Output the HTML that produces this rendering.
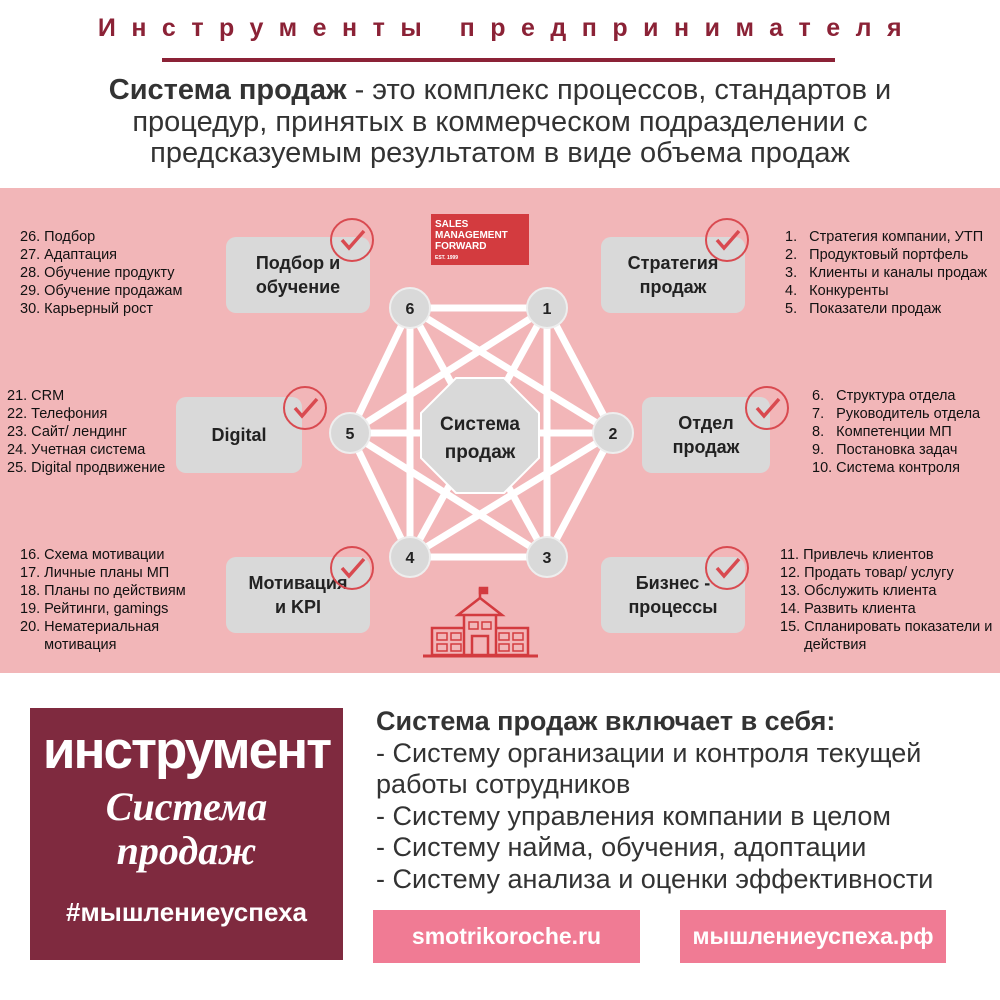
<!DOCTYPE html>
<html><head><meta charset="utf-8"><style>
body{margin:0;width:1000px;height:1000px;background:#fff;position:relative;overflow:hidden;font-family:"Liberation Sans","DejaVu Sans",sans-serif}
.a{position:absolute}
.box{position:absolute;background:#d9d9d9;border-radius:10px;display:flex;align-items:center;justify-content:center;text-align:center;font-weight:bold;font-size:18px;color:#222;line-height:24px}
.lst{position:absolute;font-size:14.5px;color:#111;line-height:18px;white-space:nowrap}
.btn{position:absolute;background:#f07b94;color:#fff;font-weight:bold;font-size:23px;display:flex;align-items:center;justify-content:center}
</style></head><body>
<div class="a" style="left:0;top:14px;width:1000px;text-align:center;color:#8b2236;font-weight:bold;font-size:25px;letter-spacing:15.5px;text-indent:15px">Инструменты предпринимателя</div>
<div class="a" style="left:162px;top:58px;width:673px;height:4px;background:#8b2236"></div>
<div class="a" style="left:0;top:75px;width:1000px;text-align:center;font-size:29px;line-height:31.5px;color:#333">
<b>Система продаж</b> - это комплекс процессов, стандартов и<br>процедур, принятых в коммерческом подразделении с<br>предсказуемым результатом в виде объема продаж</div>
<div class="a" style="left:0;top:188px;width:1000px;height:485px;background:#f2b6b8"></div>
<svg class="a" style="left:0;top:0" width="1000" height="700">
<g stroke="#fff" stroke-width="7">
<line x1="410" y1="308" x2="547" y2="308"/><line x1="547" y1="308" x2="613" y2="433"/><line x1="613" y1="433" x2="547" y2="557"/><line x1="547" y1="557" x2="410" y2="557"/><line x1="410" y1="557" x2="350" y2="433"/><line x1="350" y1="433" x2="410" y2="308"/>
<line x1="410" y1="308" x2="613" y2="433"/><line x1="410" y1="308" x2="547" y2="557"/><line x1="410" y1="308" x2="410" y2="557"/>
<line x1="547" y1="308" x2="350" y2="433"/><line x1="547" y1="308" x2="410" y2="557"/><line x1="547" y1="308" x2="547" y2="557"/>
<line x1="613" y1="433" x2="350" y2="433"/><line x1="613" y1="433" x2="410" y2="557"/><line x1="350" y1="433" x2="547" y2="557"/>
</g>
<polygon points="456,378 504,378 539,413 539,458 504,493 456,493 421,458 421,413" fill="#d9d9d9" stroke="#fff" stroke-width="2"/>
<text x="480" y="430" text-anchor="middle" font-weight="bold" font-size="19" fill="#222">Система</text>
<text x="480" y="458" text-anchor="middle" font-weight="bold" font-size="19" fill="#222">продаж</text>
<g fill="#d9d9d9" stroke="#eee" stroke-width="2">
<circle cx="410" cy="308" r="20"/><circle cx="547" cy="308" r="20"/><circle cx="613" cy="433" r="20"/><circle cx="547" cy="557" r="20"/><circle cx="410" cy="557" r="20"/><circle cx="350" cy="433" r="20"/></g>
<g font-weight="bold" font-size="16" fill="#222" text-anchor="middle">
<text x="410" y="314">6</text><text x="547" y="314">1</text><text x="613" y="439">2</text><text x="547" y="563">3</text><text x="410" y="563">4</text><text x="350" y="439">5</text></g>
<rect x="431" y="214" width="98" height="51" fill="#d33b3f"/>
<g fill="#fff" font-weight="bold" font-size="10"><text x="435" y="227">SALES</text><text x="435" y="238">MANAGEMENT</text><text x="435" y="249">FORWARD</text><text x="435" y="259" font-size="5">EST. 1999</text></g>
<g fill="#f2b6b8" stroke="#d33b3f" stroke-width="2.5">
<rect x="432" y="628" width="34" height="27"/><rect x="494" y="628" width="34" height="27"/>
<rect x="464" y="614" width="32" height="41"/><polygon points="458,615 480,598 502,615"/>
<line x1="480" y1="598" x2="480" y2="588"/><rect x="480" y="588" width="7" height="5" fill="#d33b3f"/>
<line x1="423" y1="656" x2="538" y2="656" stroke-width="3"/>
<rect x="472" y="636" width="16" height="19"/>
<g stroke-width="1.5"><rect x="437" y="633" width="10" height="7"/><rect x="451" y="633" width="10" height="7"/><rect x="437" y="644" width="10" height="7"/><rect x="451" y="644" width="10" height="7"/>
<rect x="499" y="633" width="10" height="7"/><rect x="513" y="633" width="10" height="7"/><rect x="499" y="644" width="10" height="7"/><rect x="513" y="644" width="10" height="7"/>
<rect x="469" y="622" width="9" height="7"/><rect x="482" y="622" width="9" height="7"/></g>
</g>
</svg>
<div class="box" style="left:226px;top:237px;width:144px;height:76px">Подбор и<br>обучение</div>
<div class="box" style="left:601px;top:237px;width:144px;height:76px">Стратегия<br>продаж</div>
<div class="box" style="left:176px;top:397px;width:126px;height:76px">Digital</div>
<div class="box" style="left:642px;top:397px;width:128px;height:76px">Отдел<br>продаж</div>
<div class="box" style="left:226px;top:557px;width:144px;height:76px">Мотивация<br>и KPI</div>
<div class="box" style="left:601px;top:557px;width:144px;height:76px">Бизнес -<br>процессы</div>
<svg class="a" style="left:0;top:0" width="1000" height="700"><g fill="none" stroke="#d94a50" stroke-width="2">
<g transform="translate(352,240)"><circle r="21"/><path d="M-10,0 L-3,8 L12,-9" stroke-width="3.5"/></g>
<g transform="translate(727,240)"><circle r="21"/><path d="M-10,0 L-3,8 L12,-9" stroke-width="3.5"/></g>
<g transform="translate(305,408)"><circle r="21"/><path d="M-10,0 L-3,8 L12,-9" stroke-width="3.5"/></g>
<g transform="translate(767,408)"><circle r="21"/><path d="M-10,0 L-3,8 L12,-9" stroke-width="3.5"/></g>
<g transform="translate(352,568)"><circle r="21"/><path d="M-10,0 L-3,8 L12,-9" stroke-width="3.5"/></g>
<g transform="translate(727,568)"><circle r="21"/><path d="M-10,0 L-3,8 L12,-9" stroke-width="3.5"/></g>
</g></svg>
<div class="lst" style="left:20px;top:228px">26. Подбор<br>27. Адаптация<br>28. Обучение продукту<br>29. Обучение продажам<br>30. Карьерный рост</div>
<div class="lst" style="left:785px;top:228px">1.&nbsp;&nbsp;&nbsp;Стратегия компании, УТП<br>2.&nbsp;&nbsp;&nbsp;Продуктовый портфель<br>3.&nbsp;&nbsp;&nbsp;Клиенты и каналы продаж<br>4.&nbsp;&nbsp;&nbsp;Конкуренты<br>5.&nbsp;&nbsp;&nbsp;Показатели продаж</div>
<div class="lst" style="left:7px;top:387px">21. CRM<br>22. Телефония<br>23. Сайт/ лендинг<br>24. Учетная система<br>25. Digital продвижение</div>
<div class="lst" style="left:812px;top:387px">6.&nbsp;&nbsp;&nbsp;Структура отдела<br>7.&nbsp;&nbsp;&nbsp;Руководитель отдела<br>8.&nbsp;&nbsp;&nbsp;Компетенции МП<br>9.&nbsp;&nbsp;&nbsp;Постановка задач<br>10. Система контроля</div>
<div class="lst" style="left:20px;top:546px">16. Схема мотивации<br>17. Личные планы МП<br>18. Планы по действиям<br>19. Рейтинги, gamings<br>20. Нематериальная<br>&nbsp;&nbsp;&nbsp;&nbsp;&nbsp;&nbsp;мотивация</div>
<div class="lst" style="left:780px;top:546px">11. Привлечь клиентов<br>12. Продать товар/ услугу<br>13. Обслужить клиента<br>14. Развить клиента<br>15. Спланировать показатели и<br>&nbsp;&nbsp;&nbsp;&nbsp;&nbsp;&nbsp;действия</div>
<div class="a" style="left:30px;top:708px;width:313px;height:252px;background:#7f2a3f;color:#fff;text-align:center">
<div style="font-weight:900;font-size:53px;margin-top:12px;letter-spacing:-2px">инструмент</div>
<div style="font-family:'Liberation Serif',serif;font-style:italic;font-weight:bold;font-size:40px;line-height:44px;margin-top:4px">Система<br>продаж</div>
<div style="font-weight:bold;font-size:26px;margin-top:24px">#мышлениеуспеха</div></div>
<div class="a" style="left:376px;top:706px;font-size:27px;line-height:31.5px;color:#333;white-space:nowrap"><b>Система продаж включает в себя:</b><br>- Систему организации и контроля текущей<br>работы сотрудников<br>- Систему управления компании в целом<br>- Систему найма, обучения, адоптации<br>- Систему анализа и оценки эффективности</div>
<div class="btn" style="left:373px;top:910px;width:267px;height:53px">smotrikoroche.ru</div>
<div class="btn" style="left:680px;top:910px;width:266px;height:53px">мышлениеуспеха.рф</div>
</body></html>
